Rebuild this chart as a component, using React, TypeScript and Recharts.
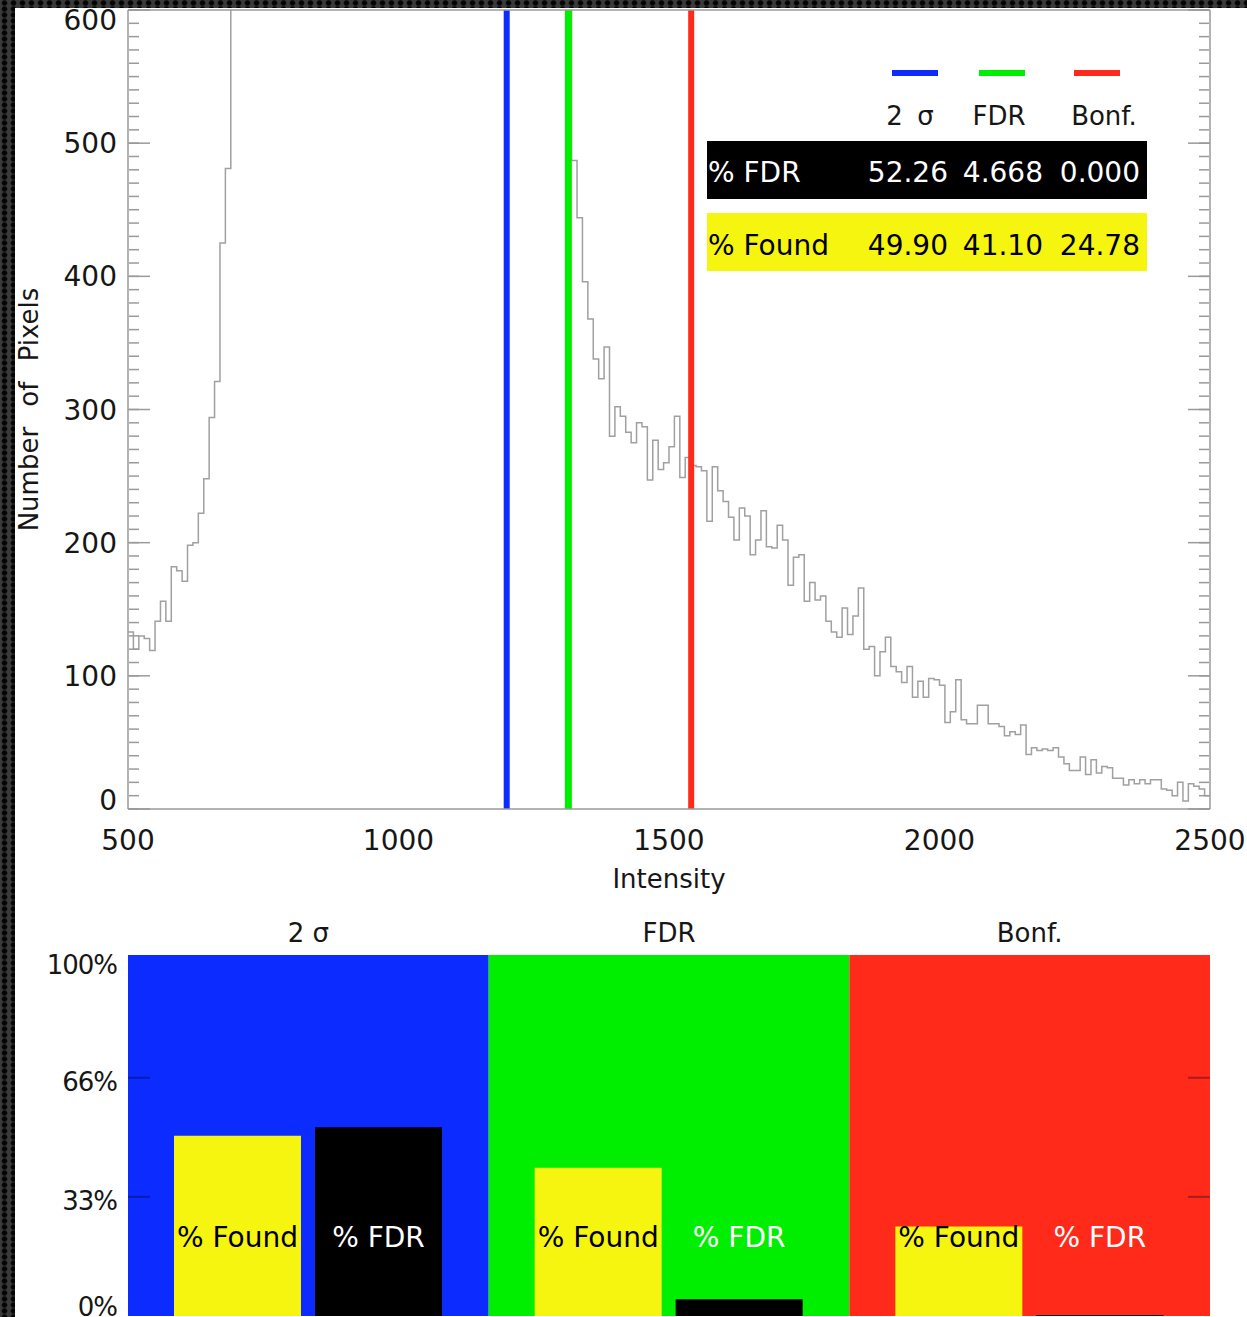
import {
  LineChart,
  Line,
  BarChart,
  Bar,
  XAxis,
  YAxis,
  ReferenceLine,
  ReferenceArea,
  LabelList,
} from 'recharts'

// histogram of pixel intensities, 10-wide bins starting at 500
const BIN_START = 500
const BIN_WIDTH = 10
const pixelCounts = [
  133, 120, 130, 128, 119, 141, 156, 141, 182, 179,
  171, 198, 200, 222, 248, 294, 321, 425, 481, 650,
  820, 1010, 1230, 1480, 1750, 2040, 2330, 2620, 2900, 3150,
  3380, 3570, 3720, 3830, 3900, 3930, 3920, 3870, 3790, 3680,
  3540, 3380, 3200, 3010, 2810, 2600, 2400, 2200, 2010, 1830,
  1660, 1500, 1360, 1230, 1120, 1020, 940, 870, 820, 780,
  750, 730, 710, 700, 690, 680, 675, 668, 662, 655,
  650, 645, 640, 636, 632, 628, 624, 620, 616, 612,
  608, 604, 487, 444, 396, 368, 338, 323, 347, 280,
  302, 295, 283, 275, 290, 287, 247, 277, 255, 260,
  272, 295, 249, 264, 258, 257, 254, 216, 257, 239,
  231, 219, 202, 226, 220, 191, 202, 224, 197, 196,
  213, 202, 168, 189, 191, 156, 170, 157, 160, 141,
  133, 129, 151, 131, 145, 166, 120, 122, 100, 118,
  129, 107, 103, 95, 107, 84, 96, 84, 98, 97,
  93, 65, 73, 97, 67, 64, 64, 78, 78, 64,
  64, 62, 55, 58, 56, 63, 41, 46, 44, 45,
  44, 46, 39, 34, 29, 29, 39, 26, 37, 27,
  32, 31, 23, 23, 18, 22, 19, 22, 19, 22,
  22, 15, 14, 10, 20, 6, 19, 17, 15, 10,
]

const methods = ['2 σ', 'FDR', 'Bonf.']
const thresholds = [1200, 1314, 1541]
const methodColors = ['#0b2bff', '#00ee00', '#ff2a1a']
const fdrPercent = [52.26, 4.668, 0.0]
const foundPercent = [49.9, 41.1, 24.78]

const xMajorTicks = [500, 1000, 1500, 2000, 2500]
const yMajorTicks = [0, 100, 200, 300, 400, 500, 600]
const pctTicks = [0, 33, 66, 100]
const pctInnerTicks = [33, 66]

const xMinorTicks = Array.from({ length: 21 }, (_, i) => 500 + i * 100)
const yMinorTicks = Array.from({ length: 61 }, (_, i) => i * 10)

const histData = [
  ...pixelCounts.map((count, i) => ({ intensity: BIN_START + i * BIN_WIDTH, count })),
  { intensity: BIN_START + pixelCounts.length * BIN_WIDTH, count: pixelCounts[pixelCounts.length - 1] },
]

const methodData = methods.map((method, i) => ({
  method,
  found: foundPercent[i],
  fdr: fdrPercent[i],
}))

const TEXT = '#161616'
const AXIS = '#9a9a9a'
const YELLOW = '#f6f50f'
const TICK_SHADE = 'rgba(0,0,40,0.35)'
const FONT = '"DejaVu Sans", sans-serif'

// layout for the little table in the top right
const headCenters = [910, 999, 1104]
const dashCenters = [915, 1002, 1097]
const valueRights = [948, 1043, 1140]

const BAR_MARGIN = { top: 15, right: 37, bottom: 44, left: 48 }
const OVERLAY_MARGIN = { top: 15, right: 37, bottom: 44, left: 128 }

const noLabel = () => ''

function CountTick(props: any) {
  const { x, y, payload } = props
  const shift = payload.value === 600 ? 10 : payload.value === 0 ? -9 : 0
  return (
    <text x={x} y={y + shift} dy="0.36em" textAnchor="end" fill={TEXT} fontSize={28}>
      {payload.value}
    </text>
  )
}

function PctTick(props: any) {
  const { x, y, payload } = props
  const shift = payload.value === 100 ? 10 : payload.value === 0 ? -9 : 4
  return (
    <text x={x} y={y + shift} dy="0.36em" textAnchor="end" fill={TEXT} fontSize={26} letterSpacing={-1}>
      {payload.value}%
    </text>
  )
}

function barLabel(text: string, color: string) {
  return (props: any) => {
    const vb = props.viewBox ?? props
    const { x, y, width, height } = vb
    const base = y + height
    return (
      <text x={x + width / 2} y={base - 79} dy="0.36em" textAnchor="middle" fill={color} fontSize={28}>
        {text}
      </text>
    )
  }
}

function YTitle(props: any) {
  const { viewBox } = props
  const cy = viewBox.y + viewBox.height / 2
  return (
    <text x={29} y={cy} transform={`rotate(-90 29 ${cy})`} textAnchor="middle" dy="0.36em" fill={TEXT} fontSize={26} wordSpacing={12}>
      Number of Pixels
    </text>
  )
}

const fmt = (v: number) => v.toPrecision(4)

export default function App() {
  const xDomain: [number, number] = [500, 2500]
  const yDomain: [number, number] = [0, 600]
  const pctDomain: [number, number] = [0, 100]
  const tickStroke = { stroke: AXIS, strokeWidth: 1.5 }
  const shadeStroke = { stroke: TICK_SHADE, strokeWidth: 2 }
  const blank = { fontSize: 1, fill: 'none' }

  return (
    <div
      style={{
        position: 'absolute',
        left: 0,
        top: 0,
        width: 1247,
        height: 1317,
        overflow: 'hidden',
        backgroundColor: '#3a3a3a',
        backgroundImage: 'radial-gradient(circle, #050505 38%, transparent 62%)',
        backgroundSize: '9px 6px',
        fontFamily: FONT,
      }}
    >
      <div style={{ position: 'absolute', left: 15, top: 8, right: 0, bottom: 0, background: '#fff', overflow: 'hidden' }}>
        <div style={{ position: 'absolute', left: -15, top: -8, width: 1247, height: 1317 }}>
          <div style={{ position: 'absolute', left: 0, top: 0 }}>
            <LineChart width={1247} height={900} data={histData} margin={{ top: 10, right: 37, bottom: 6, left: 48 }}>
              <XAxis
                xAxisId="x"
                dataKey="intensity"
                type="number"
                domain={xDomain}
                allowDataOverflow
                ticks={xMajorTicks}
                interval={0}
                tickLine={false}
                axisLine={tickStroke}
                tick={{ fill: TEXT, fontSize: 28 }}
                tickMargin={15}
                height={85}
                label={{ value: 'Intensity', position: 'insideBottom', offset: 6, fill: TEXT, fontSize: 26 }}
              />
              <XAxis xAxisId="xbMaj" type="number" domain={xDomain} allowDataOverflow ticks={xMajorTicks} interval={0}
                mirror height={1} tick={blank} tickFormatter={noLabel} tickSize={16} tickLine={tickStroke} axisLine={false} />
              <XAxis xAxisId="xbMin" type="number" domain={xDomain} allowDataOverflow ticks={xMinorTicks} interval={0}
                mirror height={1} tick={blank} tickFormatter={noLabel} tickSize={8} tickLine={tickStroke} axisLine={false} />
              <XAxis xAxisId="xtMaj" orientation="top" type="number" domain={xDomain} allowDataOverflow ticks={xMajorTicks} interval={0}
                mirror height={1} tick={blank} tickFormatter={noLabel} tickSize={16} tickLine={tickStroke} axisLine={tickStroke} />
              <XAxis xAxisId="xtMin" orientation="top" type="number" domain={xDomain} allowDataOverflow ticks={xMinorTicks} interval={0}
                mirror height={1} tick={blank} tickFormatter={noLabel} tickSize={8} tickLine={tickStroke} axisLine={false} />

              <YAxis
                yAxisId="y"
                type="number"
                domain={yDomain}
                allowDataOverflow
                ticks={yMajorTicks}
                interval={0}
                width={80}
                tickLine={false}
                tickMargin={5}
                axisLine={tickStroke}
                tick={<CountTick />}
                label={{ content: <YTitle /> }}
              />
              <YAxis yAxisId="ylMaj" type="number" domain={yDomain} allowDataOverflow ticks={yMajorTicks} interval={0}
                mirror width={1} tick={blank} tickFormatter={noLabel} tickSize={22} tickLine={tickStroke} axisLine={false} />
              <YAxis yAxisId="ylMin" type="number" domain={yDomain} allowDataOverflow ticks={yMinorTicks} interval={0}
                mirror width={1} tick={blank} tickFormatter={noLabel} tickSize={10} tickLine={tickStroke} axisLine={false} />
              <YAxis yAxisId="yrMaj" orientation="right" type="number" domain={yDomain} allowDataOverflow ticks={yMajorTicks} interval={0}
                mirror width={1} tick={blank} tickFormatter={noLabel} tickSize={22} tickLine={tickStroke} axisLine={tickStroke} />
              <YAxis yAxisId="yrMin" orientation="right" type="number" domain={yDomain} allowDataOverflow ticks={yMinorTicks} interval={0}
                mirror width={1} tick={blank} tickFormatter={noLabel} tickSize={10} tickLine={tickStroke} axisLine={false} />

              <Line
                xAxisId="x"
                yAxisId="y"
                type="stepAfter"
                dataKey="count"
                stroke="#a0a0a0"
                strokeWidth={1.5}
                dot={false}
                activeDot={false}
                isAnimationActive={false}
              />
              {thresholds.map((t, i) => (
                <ReferenceLine
                  key={methods[i]}
                  xAxisId="x"
                  yAxisId="y"
                  x={t}
                  stroke={methodColors[i]}
                  strokeWidth={i === 1 ? 7 : 6}
                />
              ))}
            </LineChart>
          </div>

          {/* table with the threshold results */}
          <div style={{ position: 'absolute', left: 0, top: 0, width: 1247, height: 300, pointerEvents: 'none' }}>
            {methods.map((m, i) => (
              <div key={'dash' + m} style={{ position: 'absolute', left: dashCenters[i] - 23, top: 70, width: 46, height: 6, background: methodColors[i] }} />
            ))}
            {methods.map((m, i) => (
              <div key={'head' + m} style={{ position: 'absolute', left: headCenters[i] - 60, width: 120, top: 98, textAlign: 'center', fontSize: 26, color: TEXT, lineHeight: '36px', wordSpacing: 6 }}>
                {m}
              </div>
            ))}
            <div style={{ position: 'absolute', left: 707, top: 141, width: 440, height: 58, background: '#000' }} />
            <div style={{ position: 'absolute', left: 707, top: 213, width: 440, height: 58, background: YELLOW }} />
            <div style={{ position: 'absolute', left: 708, top: 155, fontSize: 28, lineHeight: '36px', color: '#fff' }}>% FDR</div>
            <div style={{ position: 'absolute', left: 708, top: 228, fontSize: 28, lineHeight: '36px', color: '#000' }}>% Found</div>
            {fdrPercent.map((v, i) => (
              <div key={'fdr' + i} style={{ position: 'absolute', left: valueRights[i] - 100, width: 100, top: 155, textAlign: 'right', fontSize: 28, lineHeight: '36px', color: '#fff' }}>
                {fmt(v)}
              </div>
            ))}
            {foundPercent.map((v, i) => (
              <div key={'found' + i} style={{ position: 'absolute', left: valueRights[i] - 100, width: 100, top: 228, textAlign: 'right', fontSize: 28, lineHeight: '36px', color: '#000' }}>
                {fmt(v)}
              </div>
            ))}
          </div>

          <div style={{ position: 'absolute', left: 0, top: 880 }}>
            <BarChart
              width={1247}
              height={480}
              data={methodData}
              margin={BAR_MARGIN}
              barGap={14}
              barSize={127}
            >
              <XAxis
                dataKey="method"
                orientation="top"
                height={60}
                tickLine={false}
                axisLine={false}
                interval={0}
                tickMargin={7}
                tick={{ fill: TEXT, fontSize: 26 }}
              />
              <YAxis
                yAxisId="pct"
                type="number"
                domain={pctDomain}
                allowDataOverflow
                ticks={pctTicks}
                interval={0}
                width={80}
                tickLine={false}
                axisLine={false}
                tickMargin={5}
                tick={<PctTick />}
              />
              {methods.map((m, i) => (
                <ReferenceArea
                  key={'bg' + m}
                  yAxisId="pct"
                  x1={m}
                  x2={m}
                  y1={0}
                  y2={100}
                  fill={methodColors[i]}
                  fillOpacity={1}
                  stroke="none"
                />
              ))}
              <Bar yAxisId="pct" dataKey="found" fill={YELLOW} minPointSize={1} isAnimationActive={false}>
                <LabelList dataKey="found" content={barLabel('% Found', '#000')} />
              </Bar>
              <Bar yAxisId="pct" dataKey="fdr" fill="#000" minPointSize={1} isAnimationActive={false}>
                <LabelList dataKey="fdr" content={barLabel('% FDR', '#fff')} />
              </Bar>
            </BarChart>
          </div>

          {/* inner tick marks drawn over the coloured panels */}
          <div style={{ position: 'absolute', left: 0, top: 880, pointerEvents: 'none' }}>
            <BarChart width={1247} height={480} data={methodData} margin={OVERLAY_MARGIN}>
              <XAxis dataKey="method" orientation="top" height={60} tick={false} tickLine={false} axisLine={false} />
              <YAxis yAxisId="plMaj" type="number" domain={pctDomain} allowDataOverflow ticks={pctInnerTicks} interval={0}
                mirror width={1} tick={blank} tickFormatter={noLabel} tickSize={22} tickLine={shadeStroke} axisLine={false} />
              <YAxis yAxisId="prMaj" orientation="right" type="number" domain={pctDomain} allowDataOverflow ticks={pctInnerTicks} interval={0}
                mirror width={1} tick={blank} tickFormatter={noLabel} tickSize={22} tickLine={shadeStroke} axisLine={false} />
            </BarChart>
          </div>
        </div>
      </div>
    </div>
  )
}
